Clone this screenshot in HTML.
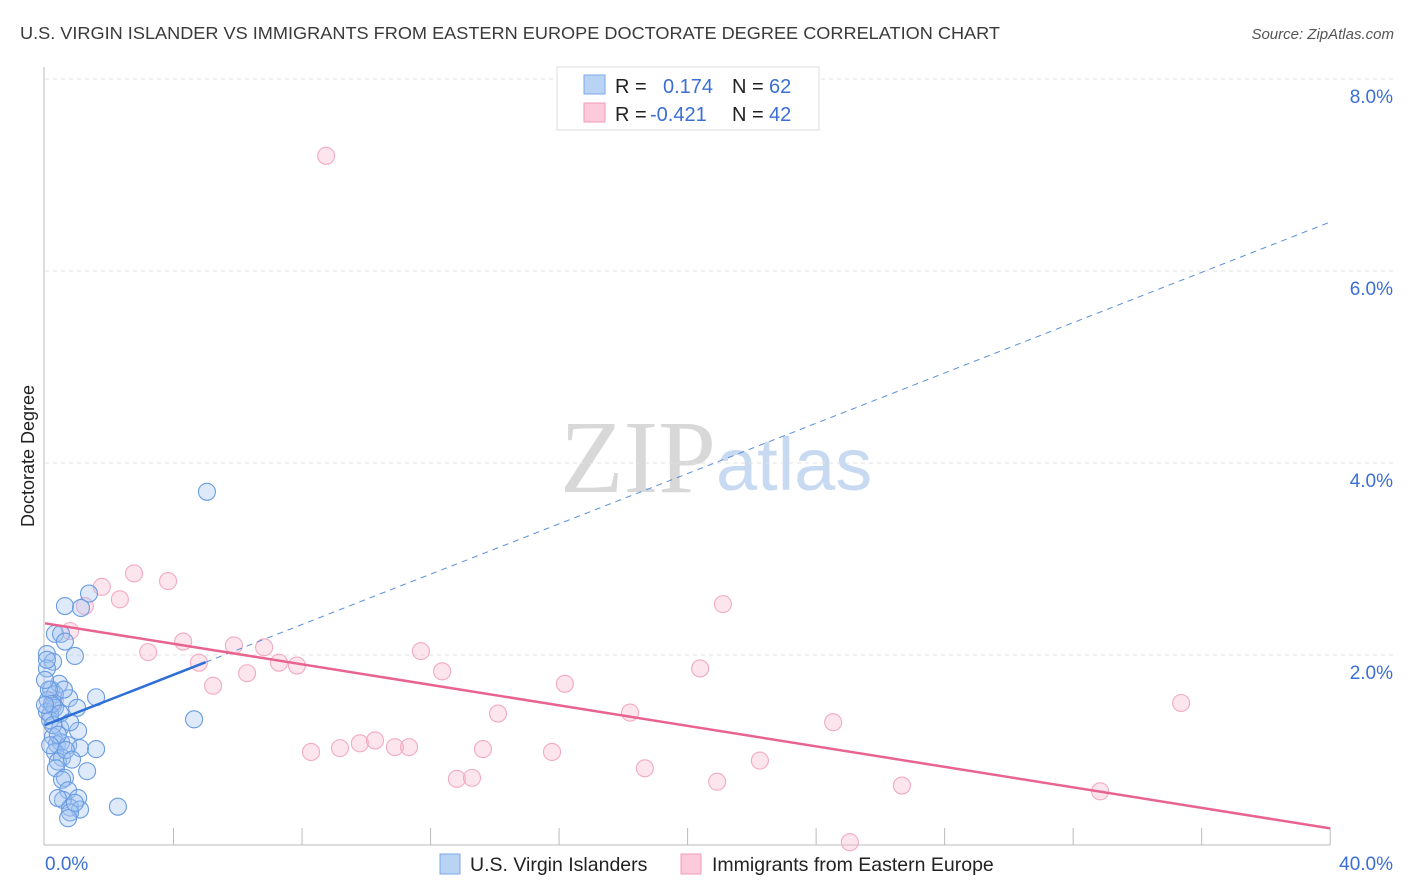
<!DOCTYPE html>
<html><head><meta charset="utf-8"><style>
body{margin:0;width:1406px;height:892px;background:#fff;font-family:"Liberation Sans",sans-serif;overflow:hidden}
svg{position:absolute;left:0;top:0}
</style></head><body>
<svg id="c" width="1406" height="892">
<text x="20" y="39" font-size="17.5" fill="#3a3a3a" textLength="980" lengthAdjust="spacingAndGlyphs">U.S. VIRGIN ISLANDER VS IMMIGRANTS FROM EASTERN EUROPE DOCTORATE DEGREE CORRELATION CHART</text>
<text x="1394" y="39" font-size="15" fill="#555" font-style="italic" text-anchor="end">Source: ZipAtlas.com</text>
<text x="716" y="492" font-size="104" fill="#d8d8d8" font-family="Liberation Serif,serif" text-anchor="end">ZIP</text>
<text x="716" y="490" font-size="74" fill="#c8daf2">atlas</text>
<text transform="translate(34,456) rotate(-90)" font-size="18" fill="#222" text-anchor="middle">Doctorate Degree</text>
<g id="grid"></g><g id="axes"></g><g id="pts"></g><g id="lines"></g>
<g>
<rect x="557" y="67" width="262" height="63" fill="#fff" stroke="#ddd"/>
<rect x="584" y="75" width="21" height="19" fill="#b9d3f5" stroke="#7aa7e8"/>
<rect x="584" y="103" width="21" height="19" fill="#fccadb" stroke="#f09ab7"/>
<text x="615" y="93" font-size="20" fill="#222">R =</text><text x="663" y="93" font-size="20" fill="#3b6fd4">0.174</text>
<text x="732" y="93" font-size="20" fill="#222">N =</text><text x="769" y="93" font-size="20" fill="#3b6fd4">62</text>
<text x="615" y="121" font-size="20" fill="#222">R =</text><text x="650" y="121" font-size="20" fill="#3b6fd4">-0.421</text>
<text x="732" y="121" font-size="20" fill="#222">N =</text><text x="769" y="121" font-size="20" fill="#3b6fd4">42</text>
</g>
<g>
<rect x="440" y="854" width="20" height="20" fill="#b9d3f5" stroke="#7aa7e8"/>
<text x="470" y="871" font-size="19.5" fill="#222">U.S. Virgin Islanders</text>
<rect x="681" y="854" width="20" height="20" fill="#fccadb" stroke="#f09ab7"/>
<text x="712" y="871" font-size="19.5" fill="#222">Immigrants from Eastern Europe</text>
</g>
</svg>
<script>
const blueX=[0.62,1.37,1.12,0.31,0.50,0.62,0.93,0.06,0.25,0.06,0.19,0.44,0.31,0.75,1.59,0.09,0.25,0.06,0.31,1.00,0.16,0.47,1.03,0.25,0.37,0.50,0.72,1.09,1.59,0.31,0.53,0.40,0.34,1.31,0.62,0.53,0.72,1.03,0.56,0.78,1.09,0.78,0.72,2.27,4.64,5.04,0.06,0.16,0.25,0.40,0.59,0.12,0.22,0.47,0.65,0.84,0.40,0.93,0.0,0.0,0.16,0.78];
const blueY=[2.51,2.64,2.49,2.22,2.22,2.14,1.99,2.01,1.93,1.86,1.64,1.70,1.59,1.55,1.56,1.53,1.47,1.41,1.45,1.45,1.32,1.24,1.21,1.15,1.07,1.09,1.06,1.03,1.02,0.99,0.93,0.89,0.82,0.79,0.72,0.70,0.59,0.51,0.49,0.41,0.39,0.36,0.30,0.42,1.33,3.70,1.95,1.38,1.27,1.17,1.64,1.64,1.49,1.39,1.01,0.91,0.51,0.46,1.74,1.48,1.06,1.30];
const pinkX=[8.75,1.77,2.77,3.83,2.33,1.24,0.78,4.30,3.21,5.88,6.82,4.79,5.23,6.29,7.28,7.84,11.70,12.36,8.28,9.18,9.80,10.27,10.89,11.33,13.63,14.10,15.78,16.18,12.82,13.29,18.67,18.21,20.39,21.10,20.92,22.25,24.53,25.05,26.67,32.84,35.36,0.31];
const pinkY=[7.20,2.71,2.85,2.77,2.58,2.51,2.25,2.14,2.03,2.10,2.08,1.92,1.68,1.81,1.92,1.89,2.04,1.83,0.99,1.03,1.08,1.11,1.04,1.04,1.02,1.39,0.99,1.70,0.71,0.72,0.82,1.40,1.86,2.53,0.68,0.90,1.30,0.05,0.64,0.58,1.50,1.53];
const blueFit=[1.27,0.131]; // intercept, slope
const pinkFit=[2.33,-0.0534];
const yTicks=[2,4,6,8];
const xTickLabels=["0.0%","40.0%"];
const NS="http://www.w3.org/2000/svg";
const X=v=>45+v*32.13, Y=v=>847-v*96;
function mk(p,t,a){const e=document.createElementNS(NS,t);for(const k in a)e.setAttribute(k,a[k]);document.getElementById(p).appendChild(e);return e;}
yTicks.forEach(t=>{
 const g=mk('grid','line',{x1:45,x2:1395,y1:Y(t),y2:Y(t),stroke:'#e2e2e2','stroke-dasharray':'4,4'});
 
 
 const l=mk('grid','text',{x:1393,y:Y(t)+24,'font-size':19,fill:'#3b6fd4','text-anchor':'end'});
 l.textContent=t.toFixed(1)+'%';
 
 
});
mk('axes','line',{x1:44,x2:44,y1:67,y2:845,stroke:'#bbb'});
mk('axes','line',{x1:44,x2:1330,y1:845,y2:845,stroke:'#bbb'});
for(let i=1;i<=10;i++){const tk=mk('axes','line',{x1:X(i*4),x2:X(i*4),y1:828,y2:845,stroke:'#bbb'});
 
 }
const xl0=mk('axes','text',{x:45,y:870,'font-size':19,fill:'#3b6fd4'});xl0.textContent=xTickLabels[0];


const xl1=mk('axes','text',{x:1393,y:870,'font-size':19,fill:'#3b6fd4','text-anchor':'end'});xl1.textContent=xTickLabels[1];


pinkX.forEach((x,i)=>{const c=mk('pts','circle',{cx:X(x),cy:Y(pinkY[i]),r:8.5,fill:'rgba(248,180,204,0.35)',stroke:'#f2aac3','stroke-width':1.1});
 
 });
blueX.forEach((x,i)=>{const c=mk('pts','circle',{cx:X(x),cy:Y(blueY[i]),r:8.5,fill:'rgba(160,196,240,0.35)',stroke:'#6a9ce2','stroke-width':1.1});
 
 });
const bl=mk('lines','line',{x1:X(0),y1:Y(blueFit[0]),x2:X(5),y2:Y(blueFit[0]+5*blueFit[1]),stroke:'#2e6fd6','stroke-width':2.5});


const bd=mk('lines','line',{x1:X(5),y1:Y(blueFit[0]+5*blueFit[1]),x2:X(40),y2:Y(blueFit[0]+40*blueFit[1]),stroke:'#5a8fdc','stroke-width':1,'stroke-dasharray':'6,5'});


const pl=mk('lines','line',{x1:X(0),y1:Y(pinkFit[0]),x2:X(40),y2:Y(pinkFit[0]+40*pinkFit[1]),stroke:'#e8648f','stroke-width':2.5});


</script>
</body></html>
